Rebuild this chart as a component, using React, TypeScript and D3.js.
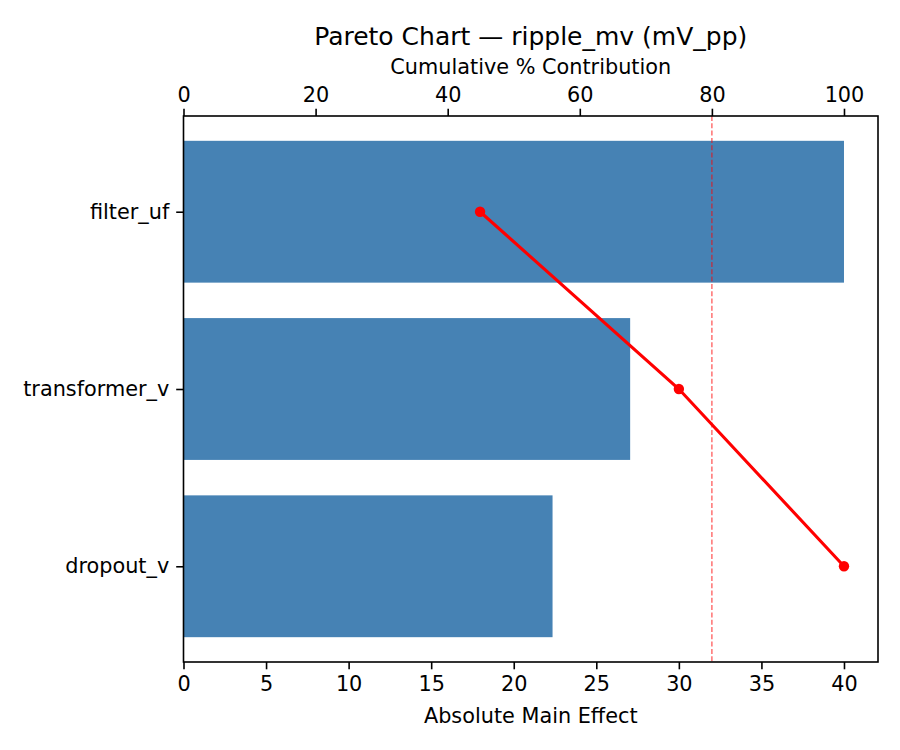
import { useRef, useEffect } from 'react';
import * as d3 from 'd3';

const factors = ['filter_uf', 'transformer_v', 'dropout_v'];
const effects = [40.0, 27.05, 22.35];
const cumulative = [44.9, 75.0, 100.0];
const effectTicks = [0, 5, 10, 15, 20, 25, 30, 35, 40];
const cumTicks = [0, 20, 40, 60, 80, 100];
const threshold = 80;

export default function App() {
    const svgRef = useRef<SVGSVGElement>(null);

    useEffect(() => {
        if (!svgRef.current) return;

        const width = 900;
        const height = 750;
        const margin = { top: 116, right: 22, bottom: 88, left: 183.5 };
        const font = 'DejaVu Sans, sans-serif';
        const fs = '20.8px';

        d3.select(svgRef.current).selectAll('*').remove();

        const svg = d3.select(svgRef.current)
            .attr('width', width)
            .attr('height', height)
            .style('font-family', font);

        const chartWidth = width - margin.left - margin.right;
        const chartHeight = height - margin.top - margin.bottom;

        const g = svg.append('g')
            .attr('transform', `translate(${margin.left},${margin.top})`);

        // Scales
        const x = d3.scaleLinear().domain([0, 42.06]).range([0, chartWidth]);
        const xTop = d3.scaleLinear().domain([0, 105.15]).range([0, chartWidth]);
        const y = d3.scaleLinear().domain([-0.54, 2.54]).range([0, chartHeight]);
        const barH = y(0.4) - y(-0.4);

        // Bars
        g.selectAll('.bar')
            .data(effects)
            .enter()
            .append('rect')
            .attr('x', x(0))
            .attr('y', (_, i) => y(i) - barH / 2)
            .attr('width', d => x(d) - x(0))
            .attr('height', barH)
            .attr('fill', '#4682b4');

        // Threshold line
        g.append('line')
            .attr('x1', xTop(threshold))
            .attr('x2', xTop(threshold))
            .attr('y1', 0)
            .attr('y2', chartHeight)
            .attr('stroke', 'red')
            .attr('stroke-opacity', 0.6)
            .attr('stroke-width', 1.4)
            .attr('stroke-dasharray', '5,2.3');

        // Cumulative line
        const line = d3.line<number>()
            .x(d => xTop(d))
            .y((_, i) => y(i));

        g.append('path')
            .datum(cumulative)
            .attr('d', line)
            .attr('fill', 'none')
            .attr('stroke', 'red')
            .attr('stroke-width', 3.1);

        g.selectAll('.dot')
            .data(cumulative)
            .enter()
            .append('circle')
            .attr('cx', d => xTop(d))
            .attr('cy', (_, i) => y(i))
            .attr('r', 5.2)
            .attr('fill', 'red');

        // Frame
        g.append('rect')
            .attr('width', chartWidth)
            .attr('height', chartHeight)
            .attr('fill', 'none')
            .attr('stroke', '#000')
            .attr('stroke-width', 1.6);

        const styleAxis = (sel: d3.Selection<SVGGElement, unknown, null, undefined>) => {
            sel.select('.domain').remove();
            sel.selectAll('.tick line').attr('stroke', '#000').attr('stroke-width', 1.6);
            sel.selectAll('.tick text')
                .attr('fill', '#000')
                .style('font-size', fs)
                .style('font-family', font);
        };

        // Bottom axis
        g.append('g')
            .attr('transform', `translate(0,${chartHeight})`)
            .call(d3.axisBottom(x).tickValues(effectTicks).tickSize(7.3).tickPadding(7).tickFormat(d3.format('d')))
            .call(styleAxis);

        // Top axis
        g.append('g')
            .call(d3.axisTop(xTop).tickValues(cumTicks).tickSize(7.3).tickPadding(7).tickFormat(d3.format('d')))
            .call(styleAxis);

        // Left axis
        g.append('g')
            .call(d3.axisLeft(y).tickValues([0, 1, 2]).tickSize(7.3).tickPadding(7).tickFormat((_, i) => factors[i]))
            .call(styleAxis);

        // Labels
        svg.append('text')
            .attr('x', margin.left + chartWidth / 2)
            .attr('y', 723)
            .attr('text-anchor', 'middle')
            .style('font-size', fs)
            .text('Absolute Main Effect');

        svg.append('text')
            .attr('x', margin.left + chartWidth / 2)
            .attr('y', 74)
            .attr('text-anchor', 'middle')
            .style('font-size', fs)
            .text('Cumulative % Contribution');

        svg.append('text')
            .attr('x', margin.left + chartWidth / 2)
            .attr('y', 45)
            .attr('text-anchor', 'middle')
            .style('font-size', '25px')
            .text('Pareto Chart — ripple_mv (mV_pp)');
    }, []);

    return (
        <div style={{ position: 'absolute', left: 0, top: 0 }}>
            <svg ref={svgRef} style={{ display: 'block' }}></svg>
        </div>
    );
}
